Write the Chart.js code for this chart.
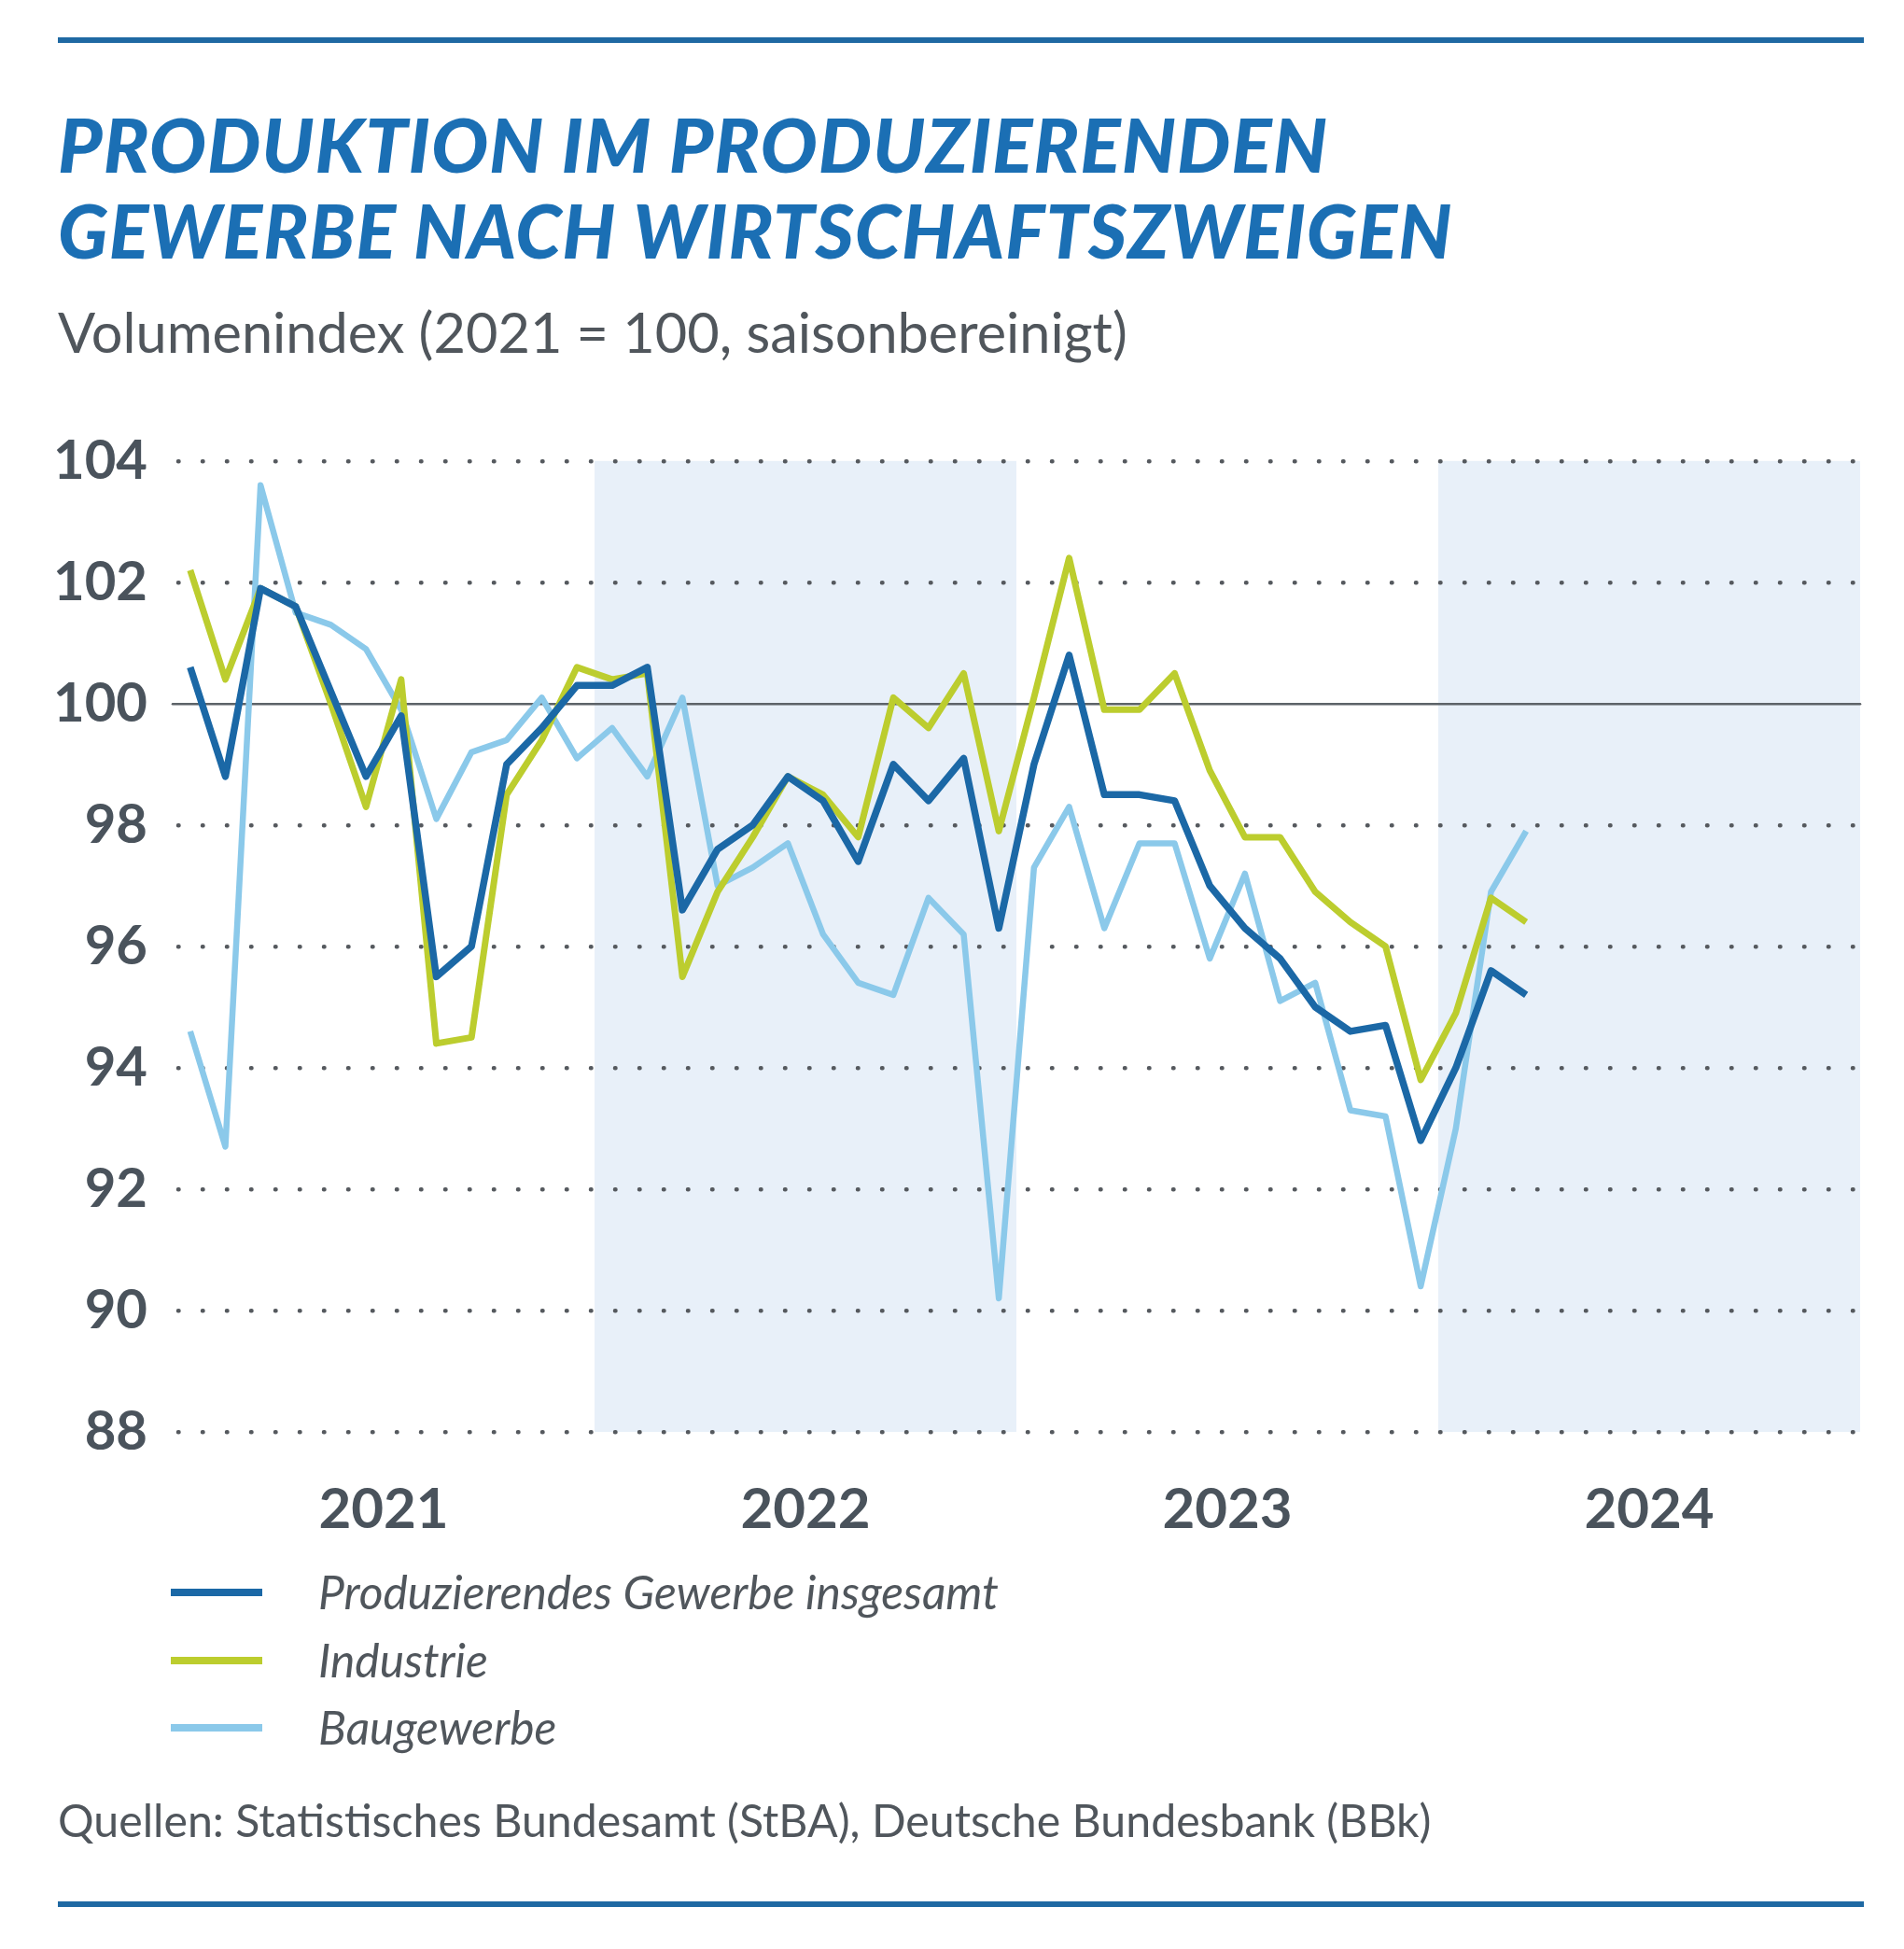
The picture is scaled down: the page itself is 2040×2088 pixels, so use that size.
<!DOCTYPE html>
<html lang="de">
<head>
<meta charset="utf-8">
<title>Produktion im Produzierenden Gewerbe</title>
<script src="https://cdn.jsdelivr.net/npm/chart.js@4.4.1/dist/chart.umd.min.js"></script>
<style>
  html, body { margin: 0; padding: 0; background: #fff; }
  body { width: 2040px; height: 2088px; position: relative; overflow: hidden; font-family: Lato, "Open Sans", sans-serif; color: #50565c; }
  .rule { position: absolute; left: 62px; width: 1935px; height: 6px; background: #1f69a3; }
  .txt { position: absolute; left: 62px; white-space: nowrap; line-height: 1; transform: translateY(-50%); }
  .title { font-weight: 900; font-style: italic; color: #1b6fb4; font-size: 76px; letter-spacing: 1px; }
  .sub { font-size: 52px; }
  .src { font-size: 50px; }
  #chart { position: absolute; left: 0; top: 432px; }
  .leg { position: absolute; left: 183px; height: 0; }
  .leg .sw { position: absolute; left: 0; top: -4px; width: 98px; height: 8px; }
  .leg .lb { position: absolute; left: 158px; top: 0; transform: translateY(-50%); font-style: italic; font-size: 48px; line-height: 1; white-space: nowrap; }
</style>
</head>
<body>
<div class="rule" style="top:40px"></div>
<div class="txt title" id="t1" style="top:154px">PRODUKTION IM PRODUZIERENDEN</div>
<div class="txt title" id="t2" style="top:247px">GEWERBE NACH WIRTSCHAFTSZWEIGEN</div>
<div class="txt sub" id="sub" style="top:356px">Volumenindex (2021 = 100, saisonbereinigt)</div>
<canvas id="chart" width="2040" height="1248"></canvas>
<div id="legend"></div>
<div class="txt src" id="src" style="top:1949px">Quellen: Statistisches Bundesamt (StBA), Deutsche Bundesbank (BBk)</div>
<div class="rule" style="top:2037px"></div>

<script>
// Monate Jan 2021 bis Mär 2024
const months = ['2021-01','2021-02','2021-03','2021-04','2021-05','2021-06','2021-07','2021-08','2021-09','2021-10','2021-11','2021-12',
                '2022-01','2022-02','2022-03','2022-04','2022-05','2022-06','2022-07','2022-08','2022-09','2022-10','2022-11','2022-12',
                '2023-01','2023-02','2023-03','2023-04','2023-05','2023-06','2023-07','2023-08','2023-09','2023-10','2023-11','2023-12',
                '2024-01','2024-02','2024-03'];
const years = ['2021', '2022', '2023', '2024'];
const shadedYears = ['2022', '2024'];
const yTicks = [88, 90, 92, 94, 96, 98, 100, 102, 104];
const baseValue = 100;

const gesamt = [100.6, 98.8, 101.9, 101.6, 100.2, 98.8, 99.8, 95.5, 96.0, 99.0, 99.6, 100.3,
                100.3, 100.6, 96.6, 97.6, 98.0, 98.8, 98.4, 97.4, 99.0, 98.4, 99.1, 96.3,
                99.0, 100.8, 98.5, 98.5, 98.4, 97.0, 96.3, 95.8, 95.0, 94.6, 94.7, 92.8,
                94.0, 95.6, 95.2];
const industrie = [102.2, 100.4, 101.9, 101.6, 100.0, 98.3, 100.4, 94.4, 94.5, 98.5, 99.4, 100.6,
                   100.4, 100.5, 95.5, 96.9, 97.8, 98.8, 98.5, 97.8, 100.1, 99.6, 100.5, 97.9,
                   100.1, 102.4, 99.9, 99.9, 100.5, 98.9, 97.8, 97.8, 96.9, 96.4, 96.0, 93.8,
                   94.9, 96.8, 96.4];
const bau = [94.6, 92.7, 103.6, 101.5, 101.3, 100.9, 99.9, 98.1, 99.2, 99.4, 100.1, 99.1,
             99.6, 98.8, 100.1, 97.0, 97.3, 97.7, 96.2, 95.4, 95.2, 96.8, 96.2, 90.2,
             97.3, 98.3, 96.3, 97.7, 97.7, 95.8, 97.2, 95.1, 95.4, 93.3, 93.2, 90.4,
             93.0, 96.9, 97.9];

const seriesNames = ['Produzierendes Gewerbe insgesamt', 'Industrie', 'Baugewerbe'];
const seriesColors = ['#1b68a6', '#bccd2e', '#8bc9ea'];
const seriesWidths = [7.5, 7, 6.5];

function fitText(el, w) {
  var cur = el.getBoundingClientRect().width;
  var fs = parseFloat(getComputedStyle(el).fontSize);
  el.style.fontSize = (fs * w / cur) + 'px';
}
fitText(document.getElementById('t1'), 1363);
fitText(document.getElementById('t2'), 1496);
fitText(document.getElementById('sub'), 1146);
fitText(document.getElementById('src'), 1472);

function points(values) {
  return values.map(function (v, i) { return { x: i + 0.5, y: v }; });
}

// Jahresbaender hinter dem Gitter
const backdrop = {
  id: 'backdrop',
  beforeDraw(chart) {
    const { ctx, chartArea, scales } = chart;
    ctx.save();
    ctx.fillStyle = '#e8f0f9';
    shadedYears.forEach(function (yr) {
      const i = years.indexOf(yr);
      const x0 = scales.x.getPixelForValue(i * 12);
      const x1 = scales.x.getPixelForValue(i * 12 + 12);
      ctx.fillRect(x0, chartArea.top, x1 - x0, chartArea.bottom - chartArea.top);
    });
    ctx.restore();
    ctx.lineCap = 'round'; // runde Punkte fuer die Gitterlinien
  }
};

const isBase = function (c) { return c.tick && c.tick.value === baseValue; };

Chart.defaults.font.family = 'Lato';

new Chart(document.getElementById('chart'), {
  type: 'line',
  data: {
    datasets: seriesNames.map(function (name, i) {
      return {
        label: name,
        data: points([gesamt, industrie, bau][i]),
        borderColor: seriesColors[i],
        borderWidth: seriesWidths[i]
      };
    })
  },
  options: {
    responsive: false,
    animation: false,
    layout: { padding: { left: 0, right: 47, top: 53, bottom: 26 } },
    elements: {
      point: { radius: 0 },
      line: { tension: 0, borderJoinStyle: 'round', borderCapStyle: 'butt', fill: false }
    },
    plugins: { legend: { display: false }, tooltip: { enabled: false } },
    scales: {
      x: {
        type: 'linear',
        min: 0,
        max: years.length * 12,
        afterBuildTicks: function (s) { s.ticks = years.map(function (y, i) { return { value: i * 12 + 6 }; }); },
        ticks: {
          autoSkip: false, maxRotation: 0, padding: 40, color: '#4a535c',
          font: { size: 60, weight: 'bold' },
          callback: function (v, i) { return years[i]; }
        },
        grid: { display: false },
        border: { display: false },
        afterFit: function (s) { s.height = 120; }
      },
      y: {
        min: 88,
        max: 104,
        afterBuildTicks: function (s) { s.ticks = yTicks.map(function (v) { return { value: v }; }); },
        ticks: { padding: 27, color: '#4a535c', font: { size: 58, weight: 'bold' } },
        grid: {
          drawTicks: false,
          color: function (c) { return isBase(c) ? '#5d6368' : '#55595e'; },
          lineWidth: function (c) { return isBase(c) ? 2.5 : 4.5; }
        },
        border: { display: false, dash: function (c) { return isBase(c) ? [] : [0.5, 25.5]; }, dashOffset: -6 },
        afterFit: function (s) { s.width = 185; }
      }
    }
  },
  plugins: [backdrop]
});

// Legende
var legend = document.getElementById('legend');
var legendY = [1706, 1779, 1851];
seriesNames.forEach(function (name, i) {
  var row = document.createElement('div');
  row.className = 'leg';
  row.style.top = legendY[i] + 'px';
  row.innerHTML = '<div class="sw" style="background:' + seriesColors[i] + '"></div><div class="lb">' + name + '</div>';
  legend.appendChild(row);
});
fitText(legend.querySelector('.lb'), 729);
var legendSize = legend.querySelector('.lb').style.fontSize;
legend.querySelectorAll('.lb').forEach(function (el) { el.style.fontSize = legendSize; });
</script>
</body>
</html>
